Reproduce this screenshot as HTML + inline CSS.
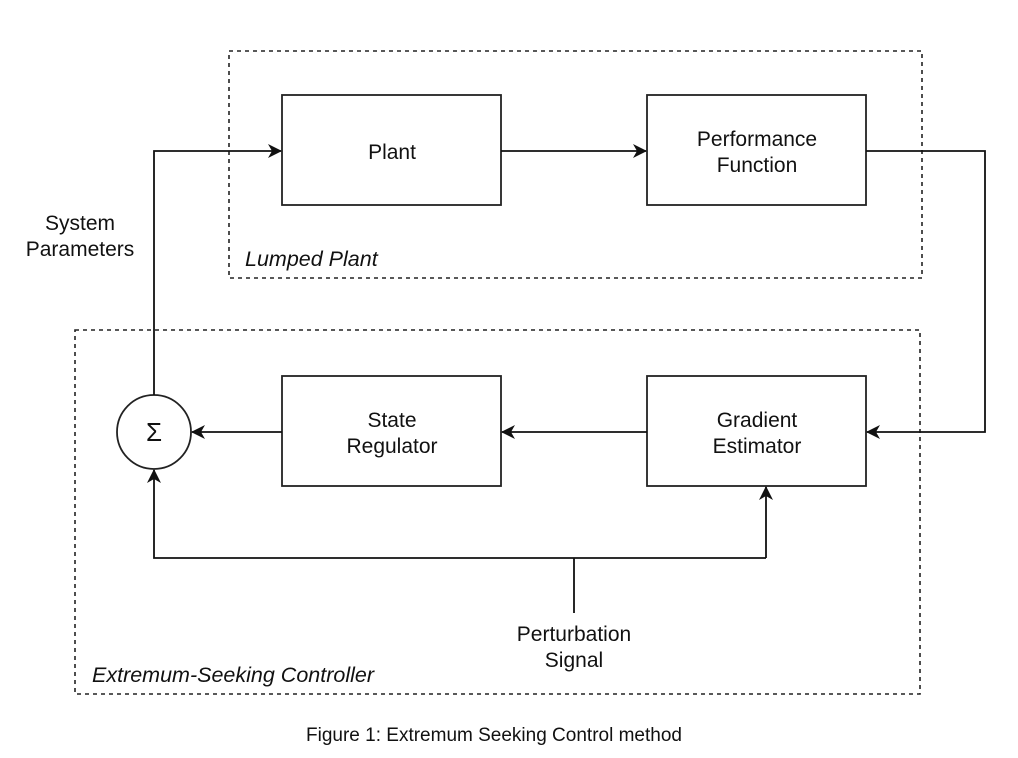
<!DOCTYPE html>
<html><head><meta charset="utf-8"><style>
html,body{margin:0;padding:0;background:#fff;}
svg{display:block;}
text{font-family:"Liberation Sans",sans-serif;fill:#111;}
</style></head><body>
<svg width="1018" height="758" viewBox="0 0 1018 758" xmlns="http://www.w3.org/2000/svg">
<defs>
<marker id="a" viewBox="0 0 14 14" refX="13" refY="7" markerWidth="14" markerHeight="14" markerUnits="userSpaceOnUse" orient="auto">
<path d="M0,0 L14,7 L0,14 L4,7 Z" fill="#111"/>
</marker>
</defs>
<g fill="none" stroke="#222" stroke-width="1.6" stroke-dasharray="4,4">
<rect x="229" y="51" width="693" height="227"/>
<rect x="75" y="330" width="845" height="364"/>
</g>
<g fill="#fff" stroke="#222" stroke-width="1.8">
<rect x="282" y="95" width="219" height="110"/>
<rect x="647" y="95" width="219" height="110"/>
<rect x="282" y="376" width="219" height="110"/>
<rect x="647" y="376" width="219" height="110"/>
<circle cx="154" cy="432" r="37"/>
</g>
<g fill="none" stroke="#111" stroke-width="1.8">
<polyline points="154,395 154,151 281,151" marker-end="url(#a)"/>
<line x1="501" y1="151" x2="646" y2="151" marker-end="url(#a)"/>
<polyline points="866,151 985,151 985,432 867,432" marker-end="url(#a)"/>
<line x1="647" y1="432" x2="502" y2="432" marker-end="url(#a)"/>
<line x1="282" y1="432" x2="192" y2="432" marker-end="url(#a)"/>
<polyline points="766,558 154,558 154,470" marker-end="url(#a)"/>
<line x1="766" y1="558" x2="766" y2="487" marker-end="url(#a)"/>
<line x1="574" y1="558" x2="574" y2="613"/>
</g>
<g font-size="21" text-anchor="middle">
<text x="392" y="159">Plant</text>
<text x="757" y="146">Performance</text>
<text x="757" y="172">Function</text>
<text x="392" y="427">State</text>
<text x="392" y="453">Regulator</text>
<text x="757" y="427">Gradient</text>
<text x="757" y="453">Estimator</text>
<text x="80" y="230">System</text>
<text x="80" y="256">Parameters</text>
<text x="574" y="641">Perturbation</text>
<text x="574" y="667">Signal</text>
<text x="154" y="441" font-family="Liberation Serif" font-size="26">Σ</text>
</g>
<g font-size="21.5" font-style="italic">
<text x="245" y="266">Lumped Plant</text>
<text x="92" y="682">Extremum-Seeking Controller</text>
</g>
<text x="494" y="741" font-size="19" text-anchor="middle">Figure 1: Extremum Seeking Control method</text>
</svg>
</body></html>
